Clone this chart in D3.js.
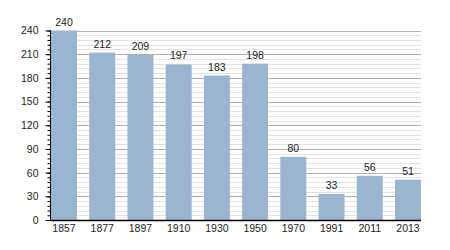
<!DOCTYPE html>
<html>
<head>
<meta charset="utf-8">
<script src="https://cdn.jsdelivr.net/npm/d3@7"></script>
<style>
  body { margin: 0; background: #fff; }
  text { font-family: "Liberation Sans", Arial, sans-serif; }
</style>
</head>
<body>
<script>
var years = ["1857", "1877", "1897", "1910", "1930", "1950", "1970", "1991", "2011", "2013"];
var population = [240, 212, 209, 197, 183, 198, 80, 33, 56, 51];
var yTicks = [0, 30, 60, 90, 120, 150, 180, 210, 240];

const w = 450,
      h = 250,
      padLeft = 50,
      padRight = 421,
      padTop = 30.5,
      padBottom = 220,
      fontSize = 10.5;

const svg = d3.select("body")
              .append("svg")
              .attr("width", w)
              .attr("height", h);

const xScale = d3.scaleBand()
                 .domain(years)
                 .range([padLeft + 1, padRight])
                 .paddingInner(0.32)
                 .paddingOuter(0);

const yScale = d3.scaleLinear()
                 .domain([0, 240])
                 .range([padBottom, padTop]);

// minor grid every 6
svg.append("g")
    .selectAll("line")
    .data(d3.range(0, 241, 6).filter(d => d % 30 != 0))
    .enter()
    .append("line")
    .attr("x1", padLeft)
    .attr("x2", padRight)
    .attr("y1", d => Math.round(yScale(d)) + 0.5)
    .attr("y2", d => Math.round(yScale(d)) + 0.5)
    .attr("stroke", "#e3e3e3");

// major grid
svg.append("g")
    .selectAll("line")
    .data(yTicks.filter(d => d > 0))
    .enter()
    .append("line")
    .attr("x1", padLeft)
    .attr("x2", padRight)
    .attr("y1", d => Math.round(yScale(d)) + 0.5)
    .attr("y2", d => Math.round(yScale(d)) + 0.5)
    .attr("stroke", "#b0b0b0");

svg.selectAll("rect")
    .data(population)
    .enter()
    .append("rect")
    .attr("x", (d, i) => xScale(years[i]))
    .attr("y", d => yScale(d))
    .attr("width", xScale.bandwidth())
    .attr("height", d => padBottom - yScale(d))
    .attr("fill", "#9bb4d0");

svg.selectAll(".val")
    .data(population)
    .enter()
    .append("text")
    .attr("class", "val")
    .text(d => d)
    .attr("x", (d, i) => xScale(years[i]) + xScale.bandwidth() / 2)
    .attr("y", d => yScale(d) - 5)
    .attr("text-anchor", "middle")
    .attr("font-size", fontSize)
    .attr("fill", "#222");

// y axis with minor ticks
const yAxis = d3.axisLeft(yScale)
                .tickValues(yTicks)
                .tickSize(5)
                .tickPadding(7);

const yMinor = d3.axisLeft(yScale)
                 .tickValues(d3.range(0, 241, 6))
                 .tickSize(3)
                 .tickFormat("");

svg.append("g")
    .attr("transform", "translate(" + (padLeft + 0.5) + ",0)")
    .call(yMinor)
    .call(g => g.select(".domain").remove());

svg.append("g")
    .attr("id", "y-axis")
    .attr("transform", "translate(" + (padLeft + 0.5) + ",0)")
    .call(yAxis)
    .call(g => g.select(".domain").attr("d", "M0," + padTop + "V" + padBottom))
    .call(g => g.selectAll("text").attr("font-size", fontSize).attr("fill", "#222").style("font-family", "Liberation Sans, Arial, sans-serif"));

const xAxis = d3.axisBottom(xScale).tickSize(0).tickPadding(4);

svg.append("g")
    .attr("id", "x-axis")
    .attr("transform", "translate(0," + (padBottom + 0.5) + ")")
    .call(xAxis)
    .call(g => g.select(".domain").attr("d", "M" + padLeft + ",0H" + padRight).attr("stroke-width", 1.5))
    .call(g => g.selectAll("text").attr("font-size", fontSize).attr("fill", "#222").style("font-family", "Liberation Sans, Arial, sans-serif"));
</script>
</body>
</html>
